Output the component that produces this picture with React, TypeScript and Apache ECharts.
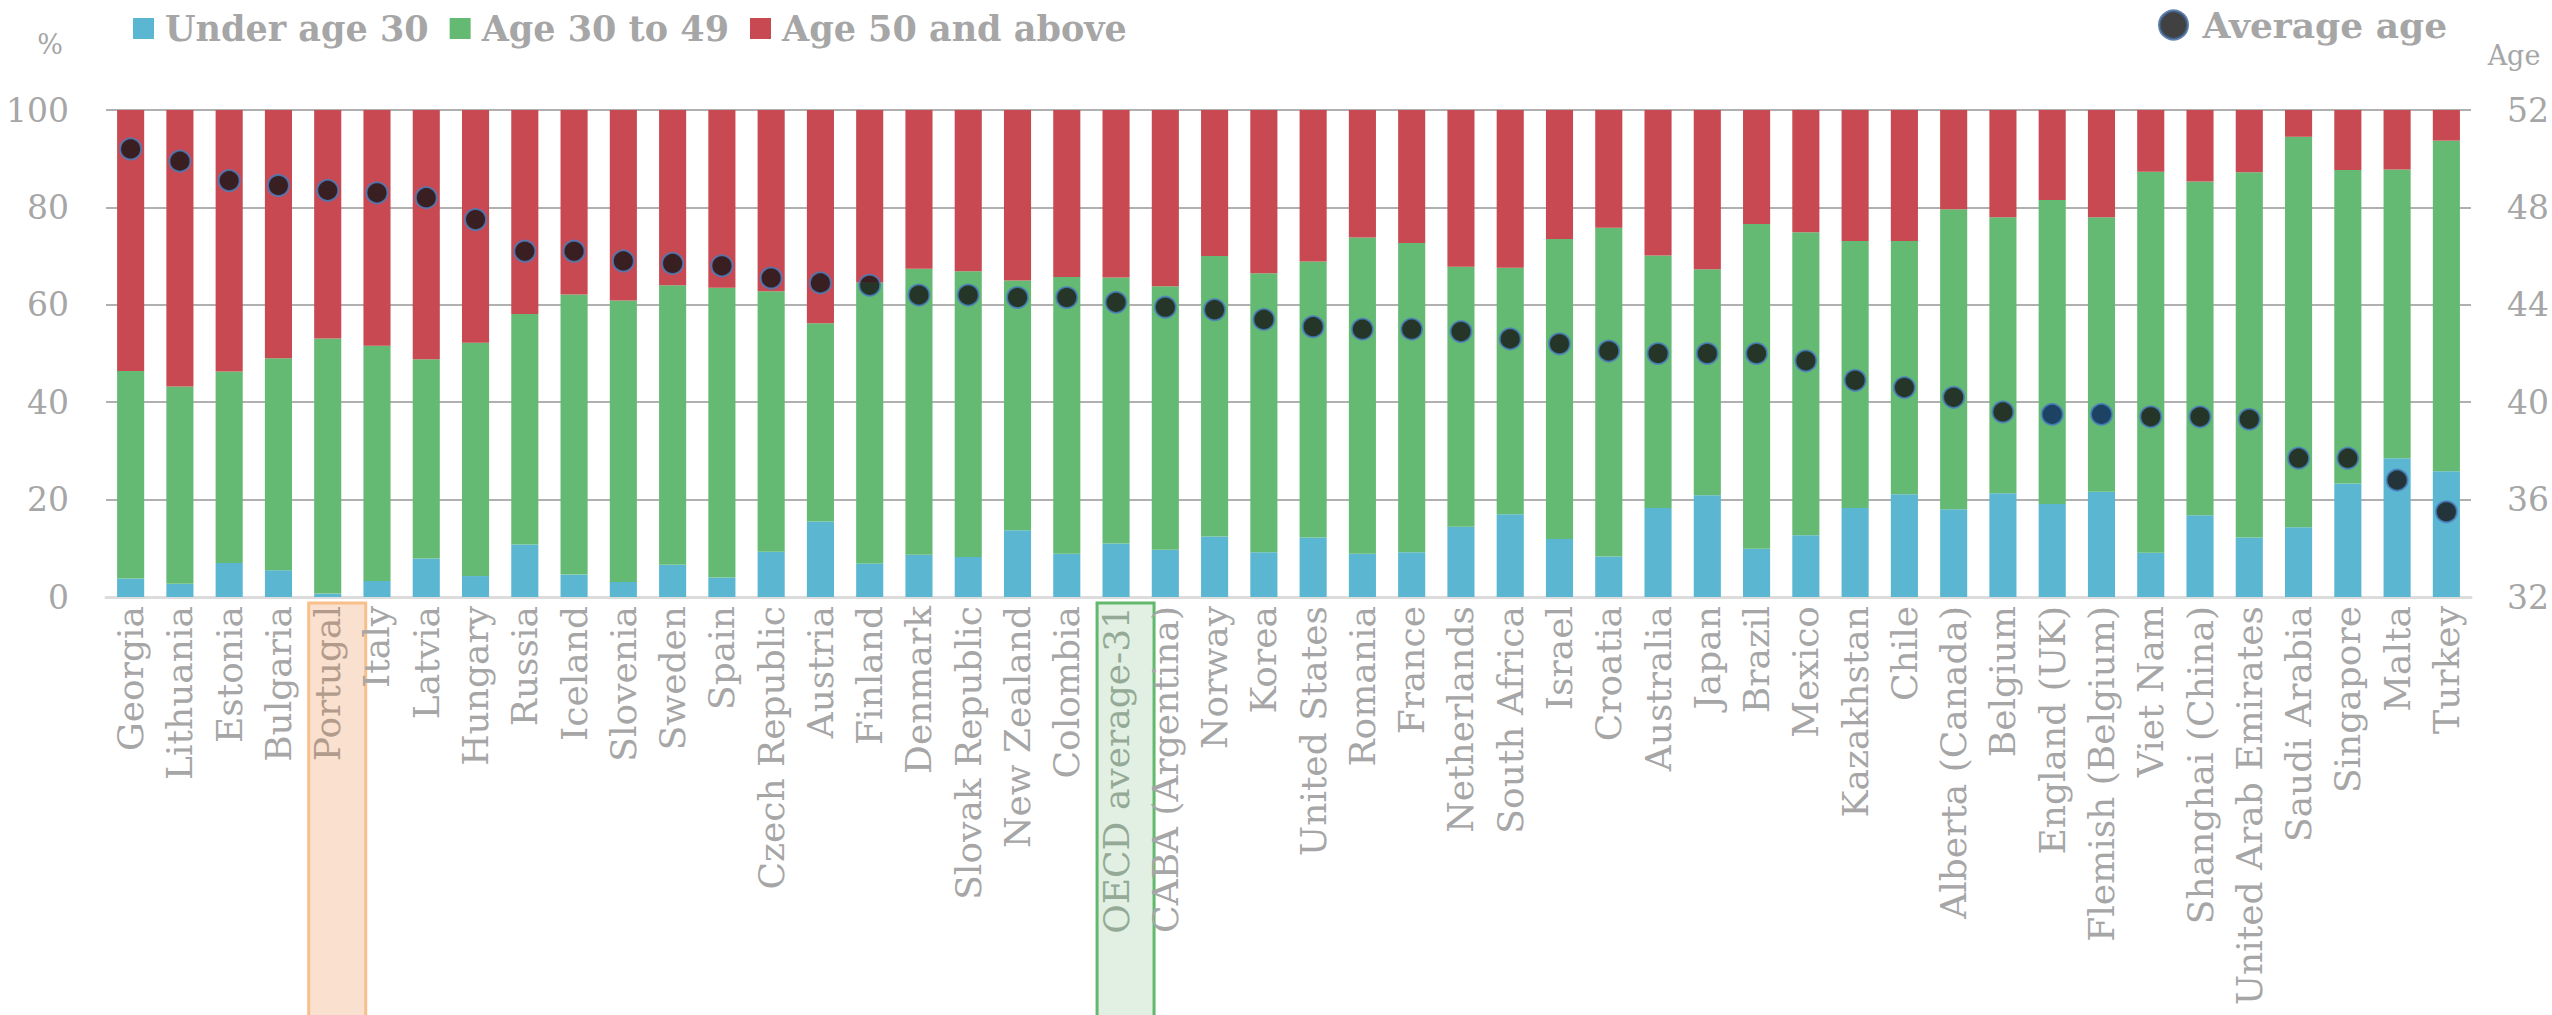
import React, { useEffect, useRef } from "react";
import * as echarts from "echarts";

// Teachers by age group (share of teachers, %) and average teacher age
const categories = [
  "Georgia", "Lithuania", "Estonia", "Bulgaria", "Portugal", "Italy", "Latvia", "Hungary",
  "Russia", "Iceland", "Slovenia", "Sweden", "Spain", "Czech Republic", "Austria", "Finland",
  "Denmark", "Slovak Republic", "New Zealand", "Colombia", "OECD average-31", "CABA (Argentina)",
  "Norway", "Korea", "United States", "Romania", "France", "Netherlands", "South Africa", "Israel",
  "Croatia", "Australia", "Japan", "Brazil", "Mexico", "Kazakhstan", "Chile", "Alberta (Canada)",
  "Belgium", "England (UK)", "Flemish (Belgium)", "Viet Nam", "Shanghai (China)",
  "United Arab Emirates", "Saudi Arabia", "Singapore", "Malta", "Turkey",
];

const under30 = [
  3.8, 2.7, 7.0, 5.5, 0.7, 3.3, 7.9, 4.3, 10.8, 4.6, 3.1, 6.6, 4.0, 9.3, 15.5, 6.9,
  8.7, 8.2, 13.7, 8.9, 11.0, 9.7, 12.4, 9.2, 12.2, 8.9, 9.2, 14.4, 17.0, 11.9,
  8.3, 18.3, 20.9, 9.9, 12.7, 18.3, 21.1, 18.0, 21.3, 19.1, 21.6, 9.1, 16.8,
  12.2, 14.3, 23.3, 28.5, 25.8,
];

const age30to49 = [
  42.6, 40.5, 39.3, 43.5, 52.4, 48.3, 40.9, 47.9, 47.3, 57.5, 57.8, 57.4, 59.5, 53.5, 40.7, 57.7,
  58.7, 58.7, 51.3, 56.8, 54.6, 54.1, 57.6, 57.3, 56.7, 64.9, 63.5, 53.4, 50.6, 61.6,
  67.5, 51.8, 46.4, 66.7, 62.2, 54.8, 52.0, 61.6, 56.7, 62.4, 56.4, 78.2, 68.5,
  75.0, 80.2, 64.4, 59.3, 67.9,
];

const age50plus = [
  53.6, 56.8, 53.7, 51.0, 46.9, 48.4, 51.2, 47.8, 41.9, 37.9, 39.1, 36.0, 36.5, 37.2, 43.8, 35.4,
  32.6, 33.1, 35.0, 34.3, 34.4, 36.2, 30.0, 33.5, 31.1, 26.2, 27.3, 32.2, 32.4, 26.5,
  24.2, 29.9, 32.7, 23.4, 25.1, 26.9, 26.9, 20.4, 22.0, 18.5, 22.0, 12.7, 14.7,
  12.8, 5.5, 12.3, 12.2, 6.3,
];

const averageAge = [
  50.4, 49.9, 49.1, 48.9, 48.7, 48.6, 48.4, 47.5, 46.2, 46.2, 45.8, 45.7, 45.6, 45.1, 44.9, 44.8,
  44.4, 44.4, 44.3, 44.3, 44.1, 43.9, 43.8, 43.4, 43.1, 43.0, 43.0, 42.9, 42.6, 42.4,
  42.1, 42.0, 42.0, 42.0, 41.7, 40.9, 40.6, 40.2, 39.6, 39.5, 39.5, 39.4, 39.4,
  39.3, 37.7, 37.7, 36.8, 35.5,
];

// Sub-national entities whose average-age marker is shaded navy
const navyDots = ["England (UK)", "Flemish (Belgium)"];

const highlights = [
  { name: "Portugal", fill: "#f9e0cf", stroke: "#f9bf8b", text: "#b39b8c" },
  { name: "OECD average-31", fill: "#e1f0e2", stroke: "#62b86d", text: "#94aa96" },
];

const FONT = "'DejaVu Serif', Georgia, serif";
const GREY = "#a6a6a6";
const BLUE = "#5bb6d1";
const GREEN = "#65ba73";
const RED = "#c84951";

export default function App() {
  const ref = useRef<HTMLDivElement>(null);

  useEffect(() => {
    if (!ref.current) return;
    const chart = echarts.init(ref.current, undefined, { renderer: "svg" });

    const rich: Record<string, any> = {};
    highlights.forEach((h, i) => {
      rich["h" + i] = { color: h.text, fontFamily: FONT, fontSize: 36 };
    });

    chart.setOption({
      animation: false,
      backgroundColor: "#ffffff",
      textStyle: { fontFamily: FONT },
      grid: { left: 106, right: 77, top: 110, bottom: 418, containLabel: false },
      legend: [
        {
          data: ["Under age 30", "Age 30 to 49", "Age 50 and above"],
          left: 128,
          top: 6,
          icon: "rect",
          itemWidth: 21,
          itemHeight: 21,
          itemGap: 21,
          selectedMode: false,
          textStyle: {
            fontFamily: FONT,
            fontWeight: "bold",
            fontSize: 35,
            color: GREY,
            padding: [0, 0, 0, 6],
          },
        },
        {
          data: ["Average age"],
          left: 2153,
          top: 2,
          icon: "circle",
          itemWidth: 28,
          itemHeight: 28,
          selectedMode: false,
          itemStyle: { color: "#111111", borderColor: "#3d6191", borderWidth: 3 },
          textStyle: {
            fontFamily: FONT,
            fontWeight: "bold",
            fontSize: 36,
            color: GREY,
            padding: [0, 0, 0, 10],
          },
        },
      ],
      xAxis: {
        type: "category",
        data: categories,
        axisTick: { show: false },
        axisLine: { show: true, lineStyle: { color: "#dcdcdc", width: 3 } },
        axisLabel: {
          interval: 0,
          rotate: 90,
          margin: 9,
          color: GREY,
          fontFamily: FONT,
          fontSize: 36,
          formatter: (v: string) => {
            const idx = highlights.findIndex((h) => h.name === v);
            return idx >= 0 ? `{h${idx}|${v}}` : v;
          },
          rich,
        },
      },
      yAxis: [
        {
          type: "value",
          min: 0,
          max: 100,
          interval: 20,
          axisLine: { show: false },
          axisTick: { show: false },
          splitLine: { lineStyle: { color: "#b0b0b0", width: 2 } },
          axisLabel: { color: GREY, fontFamily: FONT, fontSize: 33, margin: 37 },
        },
        {
          type: "value",
          min: 32,
          max: 52,
          interval: 4,
          axisLine: { show: false },
          axisTick: { show: false },
          splitLine: { show: false },
          axisLabel: { color: GREY, fontFamily: FONT, fontSize: 33, margin: 36 },
        },
      ],
      series: [
        {
          name: "Under age 30",
          type: "bar",
          stack: "age",
          barWidth: "55%",
          itemStyle: { color: BLUE },
          data: under30,
        },
        {
          name: "Age 30 to 49",
          type: "bar",
          stack: "age",
          barWidth: "55%",
          itemStyle: { color: GREEN },
          data: age30to49,
        },
        {
          name: "Age 50 and above",
          type: "bar",
          stack: "age",
          barWidth: "55%",
          itemStyle: { color: RED },
          data: age50plus,
        },
        {
          name: "Average age",
          type: "scatter",
          yAxisIndex: 1,
          symbol: "circle",
          symbolSize: 21,
          z: 5,
          itemStyle: { color: "#151515", borderColor: "#4a80c0", borderWidth: 2 },
          data: averageAge.map((v, i) =>
            navyDots.includes(categories[i])
              ? { value: v, itemStyle: { color: "#0b2560" } }
              : v
          ),
        },
      ],
    });

    // Axis unit captions and the highlight frames behind selected category labels
    const axisBottom = chart.convertToPixel({ yAxisIndex: 0 }, 0) as number;
    const frames = highlights.map((h) => {
      const cx = chart.convertToPixel({ xAxisIndex: 0 }, h.name) as number;
      return {
        type: "rect",
        z: -1,
        shape: { x: cx - 19, y: axisBottom + 6, width: 57, height: 520 },
        style: { fill: h.fill, stroke: h.stroke, lineWidth: 3 },
      };
    });

    chart.setOption({
      graphic: [
        {
          type: "text",
          x: 50,
          y: 44,
          style: {
            text: "%",
            fontFamily: FONT,
            fontSize: 27,
            fill: GREY,
            align: "center",
            verticalAlign: "middle",
          },
        },
        {
          type: "text",
          x: 2514,
          y: 55,
          style: {
            text: "Age",
            fontFamily: FONT,
            fontSize: 27,
            fill: GREY,
            align: "center",
            verticalAlign: "middle",
          },
        },
        ...frames,
      ],
    });

    return () => chart.dispose();
  }, []);

  return (
    <div
      ref={ref}
      style={{ position: "fixed", left: 0, top: 0, width: 2552, height: 1015, background: "#fff" }}
    />
  );
}
